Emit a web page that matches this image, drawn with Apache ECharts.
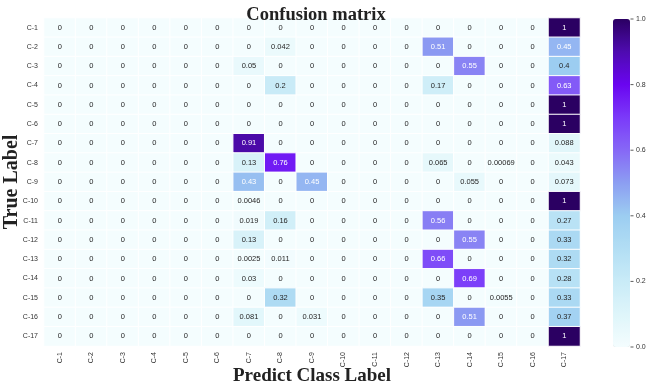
<!DOCTYPE html>
<html><head><meta charset="utf-8">
<script src="https://cdn.jsdelivr.net/npm/echarts@6/dist/echarts.min.js"></script>
<style>html,body{margin:0;padding:0;background:#fff}#c{width:660px;height:389px}</style>
</head><body><div id="c"></div>
<script>
const categories = ['C-1','C-2','C-3','C-4','C-5','C-6','C-7','C-8','C-9','C-10','C-11','C-12','C-13','C-14','C-15','C-16','C-17'];
// rows = true label, columns = predicted label
const matrix = [
 [0,0,0,0,0,0,0,0,0,0,0,0,0,0,0,0,1],
 [0,0,0,0,0,0,0,0.042,0,0,0,0,0.51,0,0,0,0.45],
 [0,0,0,0,0,0,0.05,0,0,0,0,0,0,0.55,0,0,0.4],
 [0,0,0,0,0,0,0,0.2,0,0,0,0,0.17,0,0,0,0.63],
 [0,0,0,0,0,0,0,0,0,0,0,0,0,0,0,0,1],
 [0,0,0,0,0,0,0,0,0,0,0,0,0,0,0,0,1],
 [0,0,0,0,0,0,0.91,0,0,0,0,0,0,0,0,0,0.088],
 [0,0,0,0,0,0,0.13,0.76,0,0,0,0,0.065,0,0.00069,0,0.043],
 [0,0,0,0,0,0,0.43,0,0.45,0,0,0,0,0.055,0,0,0.073],
 [0,0,0,0,0,0,0.0046,0,0,0,0,0,0,0,0,0,1],
 [0,0,0,0,0,0,0.019,0.16,0,0,0,0,0.56,0,0,0,0.27],
 [0,0,0,0,0,0,0.13,0,0,0,0,0,0,0.55,0,0,0.33],
 [0,0,0,0,0,0,0.0025,0.011,0,0,0,0,0.66,0,0,0,0.32],
 [0,0,0,0,0,0,0.03,0,0,0,0,0,0,0.69,0,0,0.28],
 [0,0,0,0,0,0,0,0.32,0,0,0,0,0.35,0,0.0055,0,0.33],
 [0,0,0,0,0,0,0.081,0,0.031,0,0,0,0,0.51,0,0,0.37],
 [0,0,0,0,0,0,0,0,0,0,0,0,0,0,0,0,1]
];
const colorbarTicks = [0, 0.2, 0.4, 0.6, 0.8, 1.0];
const cmap = ['#f4fdfe','#def5fa','#c9ebf7','#b2def4','#9ccdf1','#8c9ef2','#8668f6','#7b3af9','#6a05f0','#4e0bb0','#2b0062'];

const data = [];
matrix.forEach((row, i) => row.forEach((v, j) => data.push({
  value: [j, i, v],
  label: {color: v > 0.42 ? '#fff' : '#262626'}
})));

const chart = echarts.init(document.getElementById('c'), null, {renderer: 'canvas'});
chart.setOption({
  animation: false,
  backgroundColor: '#fff',
  title: {
    text: 'Confusion matrix', left: 311, top: 1, textAlign: 'center',
    textStyle: {fontFamily: 'Liberation Serif', fontWeight: 'bold', fontSize: 18.5, color: '#222'}
  },
  grid: [
    {left: 44, top: 18, width: 536, height: 328, containLabel: false, outerBoundsMode: 'none'},
    {left: 613, top: 19, width: 17, height: 328, containLabel: false, outerBoundsMode: 'none'}
  ],
  xAxis: [
    {type: 'category', data: categories, gridIndex: 0, position: 'bottom',
     axisLine: {show: false}, axisTick: {show: false}, splitLine: {show: false},
     axisLabel: {rotate: 90, fontSize: 7, color: '#333', fontFamily: 'Liberation Sans', margin: 6, interval: 0},
     name: 'Predict Class Label', nameLocation: 'middle', nameGap: 21, nameMoveOverlap: false,
     nameTextStyle: {fontFamily: 'Liberation Serif', fontWeight: 'bold', fontSize: 19, color: '#222'}},
    {type: 'value', gridIndex: 1, show: false, min: 0, max: 1}
  ],
  yAxis: [
    {type: 'category', data: categories, gridIndex: 0, inverse: true,
     axisLine: {show: false}, axisTick: {show: false}, splitLine: {show: false},
     axisLabel: {fontSize: 7, color: '#333', fontFamily: 'Liberation Sans', margin: 6, interval: 0},
     name: 'True Label', nameLocation: 'middle', nameGap: 22, nameRotate: 90, nameMoveOverlap: false,
     nameTextStyle: {fontFamily: 'Liberation Serif', fontWeight: 'bold', fontSize: 20, color: '#222'}},
    {type: 'value', gridIndex: 1, position: 'right', min: 0, max: 1, interval: 0.2,
     axisLine: {show: false, onZero: false}, splitLine: {show: false},
     axisTick: {show: false},
     axisLabel: {fontSize: 7, color: '#333', margin: 6, fontFamily: 'Liberation Sans',
       formatter: v => colorbarTicks.some(t => Math.abs(t - v) < 1e-9) ? v.toFixed(1) : ''}}
  ],
  visualMap: {
    type: 'continuous', min: 0, max: 1, calculable: false, seriesIndex: 0,
    orient: 'vertical', left: 613, top: 19, itemWidth: 17, itemHeight: 328, padding: 0,
    text: null, showLabel: false, z: 1,
    inRange: {color: cmap}
  },
  series: [
    {type: 'heatmap', xAxisIndex: 0, yAxisIndex: 0, data: data,
     itemStyle: {borderColor: '#fff', borderWidth: 1},
     label: {show: true, fontSize: 7.5, fontFamily: 'Liberation Sans',
       formatter: p => String(p.value[2])},
     emphasis: {disabled: true}},
    {type: 'scatter', xAxisIndex: 1, yAxisIndex: 1, zlevel: 1, clip: false, silent: true,
     data: colorbarTicks.map(t => [1, t]),
     symbol: 'rect', symbolSize: [3, 1], symbolOffset: [2, 0],
     itemStyle: {color: '#333'}}
  ]
});
</script></body></html>
